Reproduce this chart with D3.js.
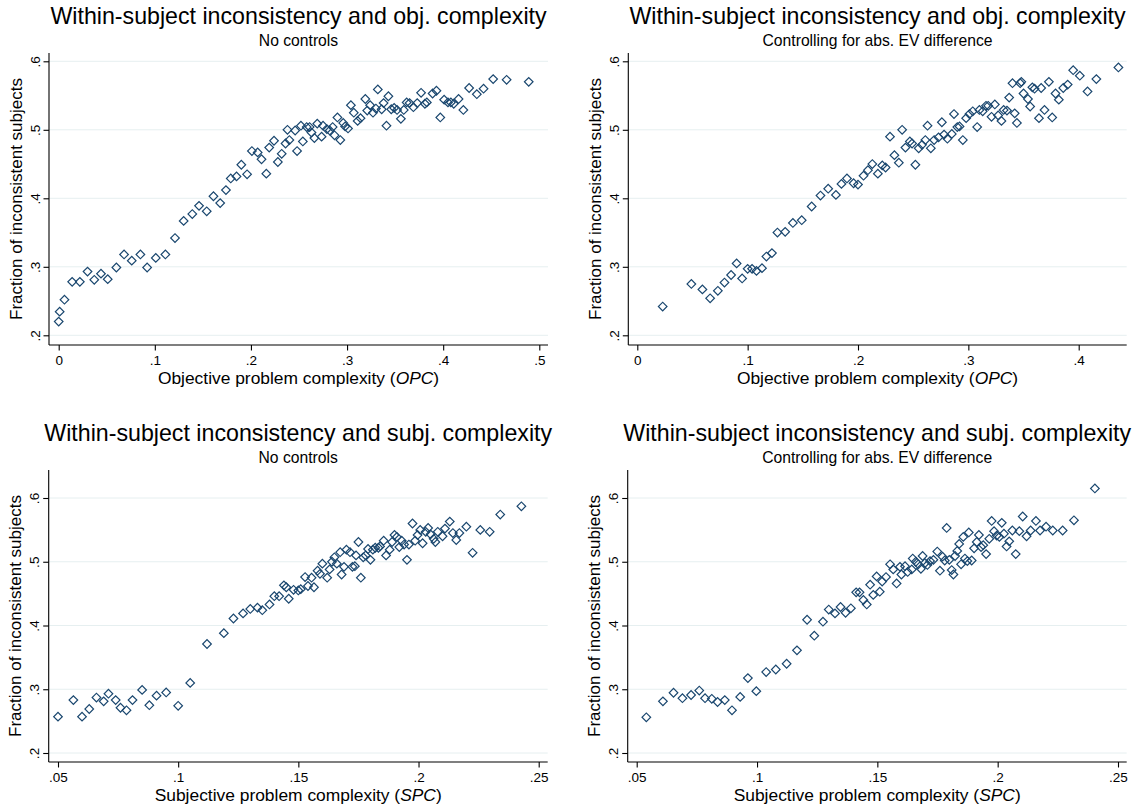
<!DOCTYPE html>
<html>
<head>
<meta charset="utf-8">
<script src="https://cdn.jsdelivr.net/npm/d3@7"></script>
<style>
  body { margin: 0; background: #fff; }
  svg { display: block; font-family: "Liberation Sans", Arial, Helvetica, sans-serif; }
  .grid line { stroke: #e6eff0; stroke-width: 1; }
  .axisline { stroke: #000; stroke-width: 1.1; }
  .tick line { stroke: #000; stroke-width: 1.1; }
  .tick text { fill: #000; font-size: 13.5px; }
</style>
</head>
<body>
<svg width="1134" height="807"></svg>
<script>
// binned scatter values: [complexity, fraction inconsistent]
var opcNoControls = [
  [0, .22], [.001, .2345], [.006, .252], [.014, .278], [.022, .278], [.030, .293], [.037, .281],
  [.044, .290], [.051, .282], [.060, .299], [.068, .318], [.076, .309], [.085, .318], [.092, .299],
  [.101, .313], [.111, .318], [.121, .342], [.130, .367], [.139, .377], [.146, .389], [.154, .381],
  [.161, .403], [.168, .393], [.174, .412], [.179, .429], [.185, .432], [.190, .449], [.196, .435],
  [.201, .469], [.207, .467], [.211, .457], [.216, .436], [.219, .474], [.224, .484], [.228, .453],
  [.232, .465], [.236, .480], [.238, .500], [.240, .485], [.246, .499], [.248, .469], [.252, .506],
  [.254, .483], [.258, .504], [.261, .504], [.263, .496], [.266, .488], [.269, .509], [.2735, .490],
  [.275, .506], [.279, .501], [.282, .499], [.285, .504], [.287, .492], [.290, .518], [.293, .485],
  [.296, .510], [.298, .505], [.301, .502], [.304, .536], [.307, .525], [.311, .513], [.314, .517],
  [.319, .545], [.321, .528], [.324, .536], [.327, .525], [.330, .531], [.332, .559], [.336, .530],
  [.338, .539], [.341, .506], [.343, .549], [.346, .530], [.349, .532], [.352, .529], [.356, .516],
  [.359, .529], [.362, .540], [.365, .539], [.369, .533], [.373, .539], [.377, .554], [.381, .538],
  [.383, .540], [.389, .553], [.393, .557], [.397, .518], [.401, .544], [.405, .540], [.408, .540],
  [.411, .538], [.416, .545], [.421, .529], [.427, .561], [.435, .552], [.442, .560], [.452, .574],
  [.466, .573], [.489, .570]
];

var opcEvControl = [
  [.023, .242], [.049, .275], [.059, .267], [.066, .254], [.073, .265], [.079, .277], [.085, .288],
  [.090, .305], [.095, .283], [.100, .297], [.104, .297], [.108, .294], [.113, .298], [.117, .315],
  [.122, .320], [.127, .350], [.134, .351], [.141, .364], [.149, .368], [.158, .388], [.166, .404],
  [.173, .414], [.180, .405], [.185, .421], [.190, .429], [.196, .422], [.200, .420], [.205, .433],
  [.209, .441], [.213, .450], [.218, .436], [.222, .448], [.225, .445], [.229, .490], [.233, .463],
  [.237, .452], [.240, .500], [.243, .474], [.247, .483], [.249, .480], [.252, .449], [.255, .473],
  [.258, .478], [.261, .485], [.263, .506], [.266, .473], [.269, .485], [.273, .489], [.276, .511],
  [.278, .493], [.281, .487], [.285, .494], [.287, .523], [.290, .504], [.292, .505], [.295, .485],
  [.298, .517], [.301, .523], [.304, .527], [.308, .504], [.310, .529], [.313, .527], [.316, .535],
  [.318, .535], [.321, .519], [.324, .537], [.327, .521], [.330, .513], [.332, .529], [.335, .528],
  [.337, .547], [.340, .568], [.342, .524], [.344, .510], [.347, .568], [.348, .570], [.350, .553],
  [.354, .545], [.356, .534], [.358, .562], [.360, .560], [.364, .517], [.366, .561], [.369, .529],
  [.373, .570], [.376, .518], [.379, .553], [.382, .544], [.386, .561], [.390, .566], [.395, .587],
  [.401, .579], [.408, .556], [.416, .574], [.436, .591]
];

var spcNoControls = [
  [.050, .257], [.0564, .283], [.060, .257], [.063, .269], [.066, .287], [.069, .281], [.071, .293],
  [.074, .283], [.076, .271], [.0785, .267], [.081, .283], [.085, .299], [.088, .275], [.091, .290],
  [.095, .295], [.100, .274], [.105, .310], [.112, .371], [.119, .388], [.123, .411], [.127, .419],
  [.130, .426], [.133, .428], [.135, .424], [.138, .433], [.140, .446], [.142, .446], [.144, .463],
  [.145, .460], [.146, .442], [.148, .456], [.150, .455], [.151, .457], [.1528, .476], [.154, .462],
  [.1555, .475], [.1565, .460], [.158, .486], [.159, .481], [.160, .497], [.162, .475], [.163, .488],
  [.164, .500], [.165, .507], [.166, .497], [.1674, .515], [.168, .480], [.169, .492], [.170, .519],
  [.1715, .515], [.1725, .492], [.1735, .493], [.174, .510], [.175, .531], [.176, .475], [.177, .507],
  [.178, .510], [.179, .520], [.180, .503], [.181, .519], [.182, .522], [.1833, .522], [.184, .524],
  [.1855, .533], [.1865, .510], [.188, .519], [.189, .531], [.190, .542], [.191, .539], [.192, .523],
  [.193, .533], [.194, .527], [.1952, .503], [.196, .527], [.1975, .560], [.1986, .533], [.1996, .542],
  [.2007, .550], [.2017, .529], [.203, .547], [.204, .553], [.205, .543], [.2063, .536], [.207, .531],
  [.208, .547], [.210, .540], [.211, .552], [.213, .563], [.2143, .545], [.2157, .534], [.217, .545],
  [.2199, .555], [.2225, .514], [.2257, .550], [.2296, .547], [.234, .574], [.2428, .587]
];

var spcEvControl = [
  [.054, .256], [.0609, .281], [.0653, .2945], [.069, .286], [.0726, .291], [.076, .298], [.0784, .286],
  [.0812, .285], [.0836, .280], [.0866, .283], [.0896, .267], [.093, .288], [.0962, .3175], [.0997, .297],
  [.1038, .327], [.1078, .331], [.1123, .340], [.1166, .361], [.1208, .409], [.1238, .384], [.1274, .406],
  [.1298, .425], [.1324, .419], [.1347, .429], [.1368, .420], [.139, .427], [.1412, .452], [.1426, .452],
  [.1442, .440], [.1456, .433], [.147, .464], [.1483, .448], [.1497, .477], [.151, .453], [.152, .469],
  [.1536, .476], [.1553, .496], [.1566, .488], [.158, .466], [.1594, .492], [.160, .480], [.1615, .493],
  [.1626, .484], [.1643, .488], [.1647, .505], [.166, .500], [.167, .496], [.1681, .489], [.1688, .509],
  [.1698, .498], [.1708, .495], [.1719, .501], [.1733, .503], [.1749, .516], [.176, .486], [.1771, .508],
  [.178, .502], [.1788, .553], [.1799, .503], [.1809, .487], [.1816, .480], [.1823, .509], [.1832, .517],
  [.184, .528], [.1848, .496], [.1857, .539], [.1864, .505], [.1874, .501], [.188, .546], [.1892, .502],
  [.1902, .521], [.1913, .531], [.1922, .542], [.1931, .523], [.194, .526], [.1952, .512], [.1965, .536],
  [.1975, .564], [.1985, .548], [.1996, .541], [.2007, .539], [.2017, .561], [.2026, .544], [.2037, .524],
  [.2048, .532], [.2061, .549], [.2075, .512], [.209, .548], [.2104, .571], [.212, .540], [.2137, .549],
  [.2159, .564], [.2176, .549], [.2201, .555], [.2229, .549], [.227, .549], [.2317, .565], [.2404, .615]
];

var yTicks = [.2, .3, .4, .5, .6];
var opcTicks1 = [0, .1, .2, .3, .4, .5];
var opcTicks2 = [0, .1, .2, .3, .4];
var spcTicks = [.05, .1, .15, .2, .25];

var titleObj = "Within-subject inconsistency and obj. complexity";
var titleSubj = "Within-subject inconsistency and subj. complexity";
var subNone = "No controls";
var subEv = "Controlling for abs. EV difference";
var yLabel = "Fraction of inconsistent subjects";

var svg = d3.select("svg");
var navy = "#1a476f";

// stata style tick labels: ".1" not "0.1"
function stataFmt(d) {
    var s = d3.format("~g")(d);
    return s.replace(/^0\./, ".");
}

// each panel: plot region box + where the tick values sit on it
var panels = [
    {data: opcNoControls, title: titleObj, sub: subNone, xlab: "OPC", pre: "Objective", xt: opcTicks1,
     left: 49, right: 548, top: 53, bottom: 345, xd: [0, .5], xr: [58.7, 539.3], yr: [335.3, 61.3]},
    {data: opcEvControl, title: titleObj, sub: subEv, xlab: "OPC", pre: "Objective", xt: opcTicks2,
     left: 628.3, right: 1126.7, top: 53, bottom: 345, xd: [0, .4], xr: [637.3, 1078.7], yr: [335.3, 61.3]},
    {data: spcNoControls, title: titleSubj, sub: subNone, xlab: "SPC", pre: "Subjective", xt: spcTicks,
     left: 48.7, right: 547.7, top: 470, bottom: 762, xd: [.05, .25], xr: [58, 538.7], yr: [753, 498]},
    {data: spcEvControl, title: titleSubj, sub: subEv, xlab: "SPC", pre: "Subjective", xt: spcTicks,
     left: 627.7, right: 1126.7, top: 470, bottom: 762, xd: [.05, .25], xr: [636.7, 1118], yr: [753, 498]}
];

var diamond = d3.symbol().type(d3.symbolSquare).size(37);

panels.forEach(function(p) {
    var x = d3.scaleLinear().domain(p.xd).range(p.xr);
    var y = d3.scaleLinear().domain([.2, .6]).range(p.yr);
    var g = svg.append("g");
    var cx = (p.left + p.right) / 2;

    // gridlines
    g.append("g").attr("class", "grid")
        .selectAll("line").data(yTicks).enter().append("line")
        .attr("x1", p.left).attr("x2", p.right)
        .attr("y1", function(d) { return y(d); })
        .attr("y2", function(d) { return y(d); });

    // y axis
    var ya = g.append("g")
        .attr("transform", "translate(" + p.left + ",0)")
        .call(d3.axisLeft(y).tickValues(yTicks).tickFormat(stataFmt).tickSize(5.5).tickSizeOuter(0));
    ya.select(".domain").remove();
    ya.selectAll(".tick text")
        .attr("x", 0).attr("dy", null)
        .attr("text-anchor", "middle")
        .attr("transform", "translate(-9.5,0) rotate(-90)");

    // x axis
    var xa = g.append("g")
        .attr("transform", "translate(0," + p.bottom + ")")
        .call(d3.axisBottom(x).tickValues(p.xt).tickFormat(stataFmt).tickSize(5.5).tickSizeOuter(0));
    xa.select(".domain").remove();
    xa.selectAll(".tick text").attr("y", 19.5).attr("dy", null);

    g.append("line").attr("class", "axisline")
        .attr("x1", p.left).attr("x2", p.left).attr("y1", p.top).attr("y2", p.bottom);
    g.append("line").attr("class", "axisline")
        .attr("x1", p.left).attr("x2", p.right).attr("y1", p.bottom).attr("y2", p.bottom);

    // markers
    g.append("g").selectAll("path").data(p.data).enter().append("path")
        .attr("d", diamond)
        .attr("transform", function(d) { return "translate(" + x(d[0]) + "," + y(d[1]) + ") rotate(45)"; })
        .attr("fill", "none")
        .attr("stroke", navy)
        .attr("stroke-width", 1.2);

    // titles
    g.append("text").attr("x", cx).attr("y", p.top - 29)
        .attr("text-anchor", "middle").style("font-size", "23.2px").text(p.title);
    g.append("text").attr("x", cx).attr("y", p.top - 7.5)
        .attr("text-anchor", "middle").style("font-size", "15.7px").text(p.sub);

    // axis titles
    var xl = g.append("text").attr("x", cx).attr("y", p.bottom + 39)
        .attr("text-anchor", "middle").style("font-size", "17.4px");
    xl.append("tspan").text(p.pre + " problem complexity (");
    xl.append("tspan").style("font-style", "italic").text(p.xlab);
    xl.append("tspan").text(")");

    g.append("text")
        .attr("transform", "translate(" + (p.left - 27.5) + "," + ((p.top + p.bottom) / 2) + ") rotate(-90)")
        .attr("text-anchor", "middle").style("font-size", "17px").text(yLabel);
});
</script>
</body>
</html>
